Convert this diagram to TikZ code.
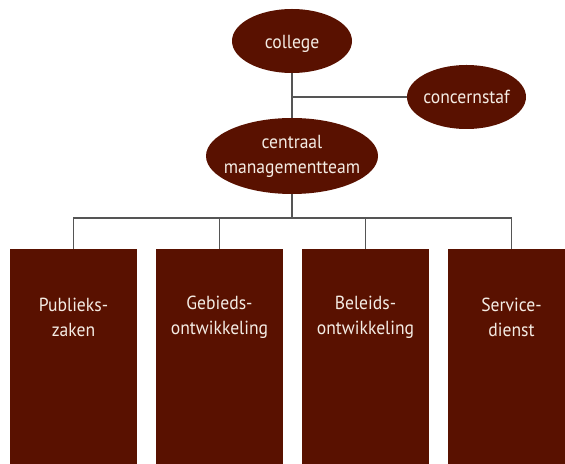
\documentclass[tikz,border=0pt]{standalone}
\usepackage{fontspec}
\setmainfont{PT Sans}[FakeStretch=0.93]
\usetikzlibrary{shapes.geometric}
\definecolor{unitred}{HTML}{591100}
\definecolor{unittext}{HTML}{F4ECE4}
\definecolor{linegray}{HTML}{555555}
\tikzset{
  oval/.style={ellipse, fill=unitred, inner sep=0pt},
  unitbox/.style={rectangle, fill=unitred, inner sep=0pt, minimum width=127bp, minimum height=215bp},
  unitlabel/.style={text=unittext, align=center, inner sep=0pt, font=\fontsize{19}{25}\selectfont},
  link/.style={draw=linegray, line width=1.4bp}
}
\begin{document}
\begin{tikzpicture}[x=1bp,y=-1bp]
\useasboundingbox (0,0) rectangle (565,464);
\clip (0,0) rectangle (565,464);
\node[oval, minimum width=120bp, minimum height=64bp, label={[unitlabel, yshift=-2.5bp]center:college}] (college) at (292,41) {};
\node[oval, minimum width=119bp, minimum height=64bp, label={[unitlabel]center:concernstaf}] (staf) at (466.5,97) {};
\node[oval, minimum width=172bp, minimum height=76bp, label={[unitlabel]center:centraal\\managementteam}] (cmt) at (292,156) {};
\foreach \n/\x in {pub/73.5, geb/219.5, bel/365.5, ser/511.5} {
  \node[unitbox, anchor=north] (\n) at (\x,249) {};
}
\node[unitlabel] (pubt) at (73.5,317) {Publieks-\\zaken};
\node[unitlabel] (gebt) at (219.5,317) {Gebieds-\\ontwikkeling};
\node[unitlabel] (belt) at (365.5,317) {Beleids-\\ontwikkeling};
\node[unitlabel] (sert) at (511.5,317) {Service-\\dienst};
\coordinate (j1) at (292,97);
\coordinate (j2) at (292,218);
\draw[link] (college.south) -- (cmt.north);
\draw[link] (j1) -- (staf.west);
\draw[link] (cmt.south) -- (j2);
\draw[link] (pub.north) |- (j2) -| (ser.north);
\draw[link] (geb.north) -- (geb.north |- j2);
\draw[link] (bel.north) -- (bel.north |- j2);
\end{tikzpicture}
\end{document}
